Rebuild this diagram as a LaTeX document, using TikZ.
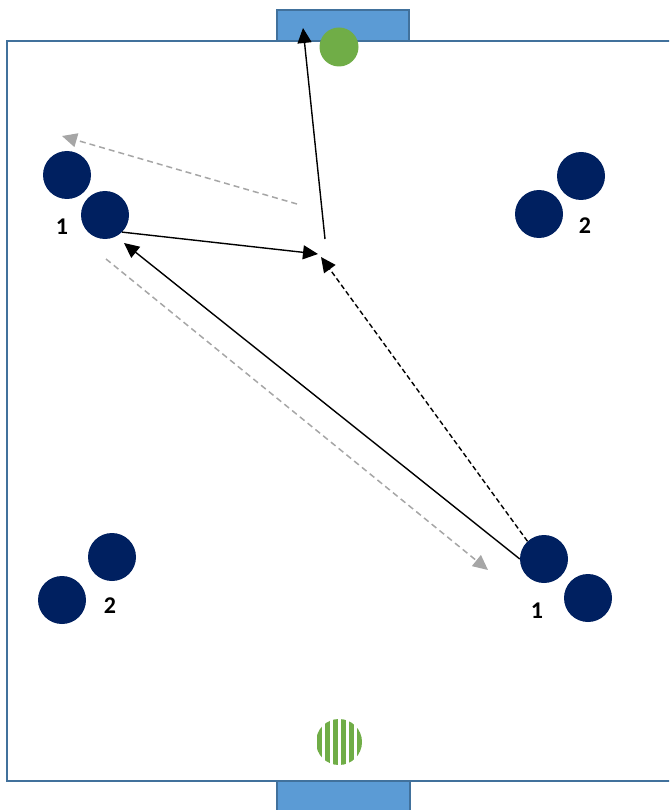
\documentclass[tikz,border=0pt]{standalone}
\usepackage{fontspec}
\setmainfont{Carlito}
\usetikzlibrary{arrows.meta}
\definecolor{navy}{HTML}{002060}
\definecolor{goalfill}{HTML}{5B9BD5}
\definecolor{goalline}{HTML}{41719C}
\definecolor{fieldline}{HTML}{41719C}
\definecolor{ballgreen}{HTML}{70AD47}
\definecolor{passgray}{HTML}{A6A6A6}
\begin{document}
\begin{tikzpicture}[x=1pt,y=-1pt,
  player/.style={circle,fill=navy,minimum size=48pt,inner sep=0pt},
  lbl/.style={font=\fontsize{24}{26}\selectfont\bfseries,inner sep=0pt},
  goalbox/.style={fill=goalfill,draw=goalline,line width=2pt},
  solidmove/.style={black,line width=1.4pt,-{Triangle[length=15pt,width=14pt]}},
  dashmove/.style={black,line width=1.4pt,dash pattern=on 5pt off 3pt,-{Triangle[length=15pt,width=14pt]}},
  graymove/.style={passgray,line width=1.5pt,dash pattern=on 6pt off 4pt,-{Triangle[length=15pt,width=14pt]}}
]
\useasboundingbox (0,0) rectangle (669,810);
\clip (0,0) rectangle (669,810);
% field and goals
\draw[fieldline,line width=2.8pt] (7,41) rectangle (700,781);
\draw[goalbox] (277,10) rectangle (409,41);
\draw[goalbox] (277,781) rectangle (410,830);
% balls
\node[circle,fill=ballgreen,minimum size=39pt,inner sep=0pt] (ball) at (339,47) {};
\begin{scope}
  \clip (339,742) circle (23);
  \foreach \k in {0,...,5} {
    \fill[ballgreen] ({316.5+8*\k},715) rectangle ({321.5+8*\k},770);
  }
\end{scope}
\coordinate (sball) at (339,742);
% players
\node[player] (tlA) at (67,175) {};
\node[player] (tlB) at (105,215) {};
\node[lbl] (l1a) at (62,227) {1};
\node[player] (trA) at (581,176) {};
\node[player] (trB) at (539,214) {};
\node[lbl] (l2a) at (585,226) {2};
\node[player] (blA) at (112,557) {};
\node[player] (blB) at (62,600) {};
\node[lbl] (l2b) at (110,606) {2};
\node[player] (brA) at (544,559) {};
\node[player] (brB) at (588,598) {};
\node[lbl] (l1b) at (537,611) {1};
% free ends
\coordinate (tip1) at (124,243);
\coordinate (meet1) at (318,254);
\coordinate (meet2) at (321,257);
\coordinate (shotstart) at (325,239);
\coordinate (shottip) at (303,28);
\coordinate (g1s) at (297,204);
\coordinate (g1e) at (62,136);
\coordinate (g2s) at (106,259);
\coordinate (g2e) at (488,570);
% movements
\draw[graymove] (g1s) -- (g1e);
\draw[graymove] (g2s) -- (g2e);
\draw[solidmove] (brA.west) -- (tip1);
\draw[dashmove] (brA.133) -- (meet2);
\draw[solidmove] (tlB.-45) -- (meet1);
\draw[solidmove] (shotstart) -- (shottip);
\end{tikzpicture}
\end{document}
